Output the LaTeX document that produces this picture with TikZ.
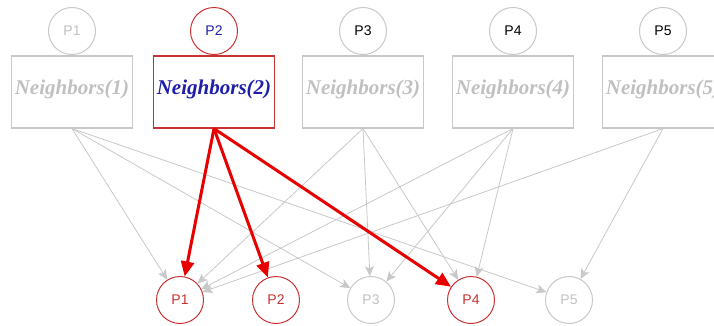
\documentclass[tikz,border=0pt]{standalone}
\usepackage{fontspec}
\setmainfont{Liberation Serif}
\setsansfont{Liberation Sans}
\usetikzlibrary{arrows.meta}
\definecolor{lgray}{RGB}{200,200,200}
\definecolor{tgray}{RGB}{192,192,192}
\definecolor{hred}{RGB}{200,50,50}
\definecolor{ared}{RGB}{232,0,0}
\definecolor{hblue}{RGB}{30,30,170}
\tikzset{
	proc/.style = {circle,draw=lgray,line width=1pt,minimum size=47pt,inner sep=0pt,font=\sffamily\fontsize{14}{14}\selectfont},
	nbox/.style = {rectangle,draw=lgray,line width=1.1pt,minimum width=120pt,minimum height=72pt,text depth=9pt,font=\bfseries\itshape\fontsize{21}{21}\selectfont,text=tgray},
	link/.style = {draw=lgray,line width=0.8pt,-{Stealth[length=10pt,width=9pt,inset=2.5pt]}},
	hot/.style = {draw=ared,line width=3pt,-{Triangle[length=15pt,width=13pt]}}
}

\begin{document}
\begin{tikzpicture}[x=1pt,y=-1pt]
	\useasboundingbox (0,0) rectangle (714,325);
	% processes on top, each over its own neighbour list
	\node[proc,text=tgray] (t1) at (72,31) {P1};
	\node[proc,draw=hred,text=hblue] (t2) at (214,31) {P2};
	\node[proc] (t3) at (363,31) {P3};
	\node[proc] (t4) at (513,31) {P4};
	\node[proc] (t5) at (663,31) {P5};
	\node[nbox] (n1) at (72,92) {Neighbors(1)};
	\node[nbox,draw=hred,text=hblue] (n2) at (214,92) {Neighbors(2)};
	\node[nbox] (n3) at (363,92) {Neighbors(3)};
	\node[nbox] (n4) at (513,92) {Neighbors(4)};
	\node[nbox] (n5) at (663,92) {Neighbors(5)};
	% receivers below
	\node[proc,draw=hred,text=hred] (b1) at (180,300) {P1};
	\node[proc,draw=hred,text=hred] (b2) at (276,300) {P2};
	\node[proc,text=tgray] (b3) at (371,300) {P3};
	\node[proc,draw=hred,text=hred] (b4) at (471,300) {P4};
	\node[proc,text=tgray] (b5) at (569,300) {P5};
	% gray links
	\foreach \a/\b in {1/1,1/3,1/5,3/1,3/3,3/4,4/1,4/3,4/4,5/1,5/5}
		\draw[link] (n\a.south) -- (b\b);
	% links of P2
	\foreach \b in {1,2,4}
		\draw[hot] (n2.south) -- (b\b);
\end{tikzpicture}
\end{document}
